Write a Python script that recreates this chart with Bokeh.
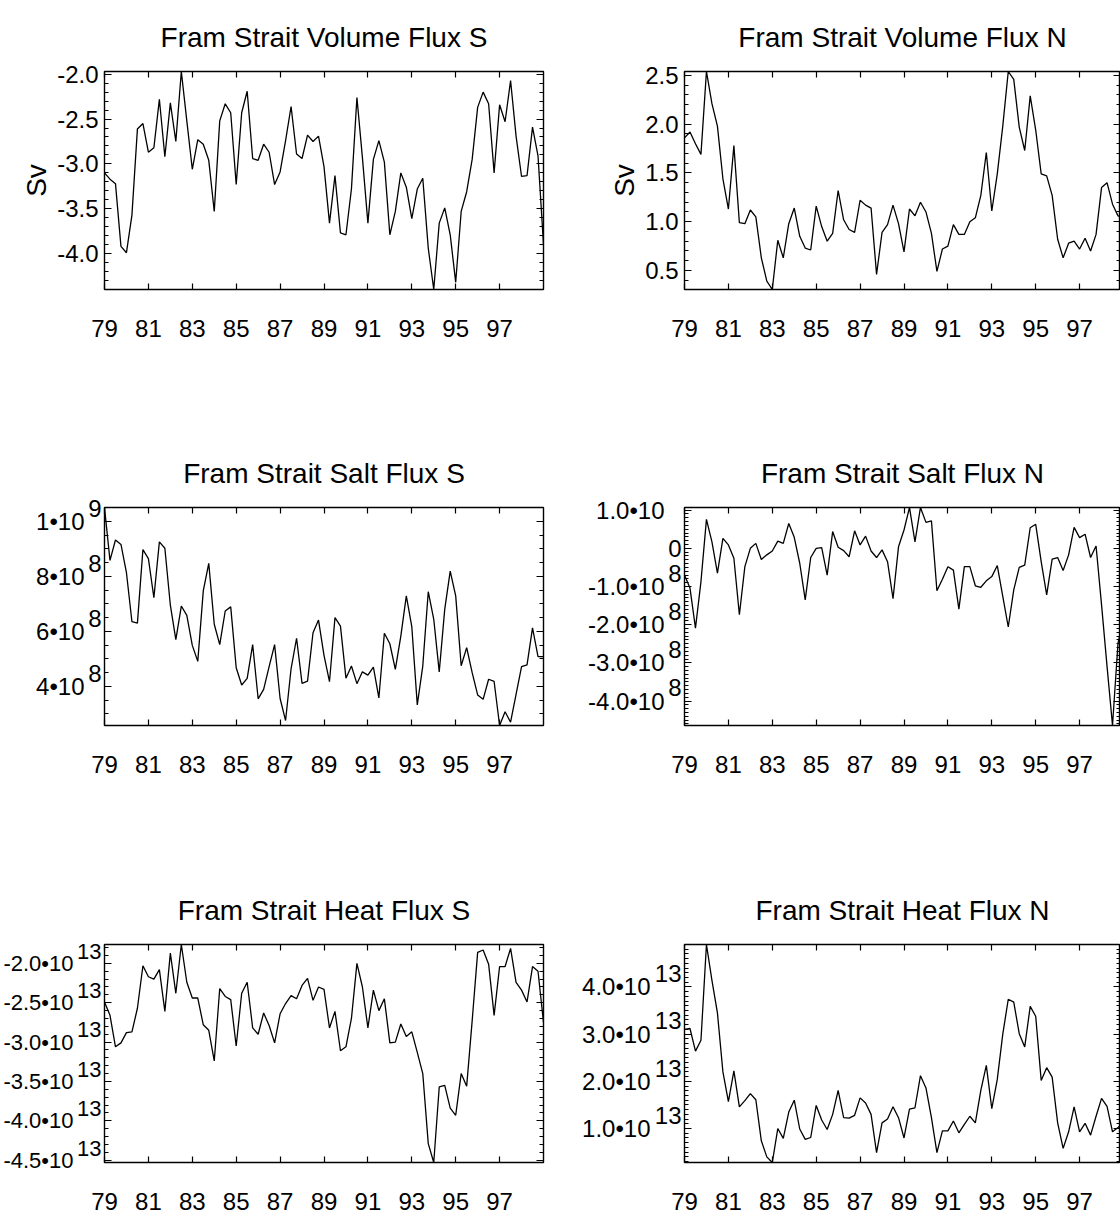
from bokeh.plotting import figure
from bokeh.models import Range1d, FixedTicker, LinearAxis
from bokeh.layouts import column, row
from bokeh.embed import file_html
from bokeh.resources import INLINE

# ---------------- data ----------------
quarters = [79 + 0.25 * i for i in range(81)]
year_ticks = [79, 81, 83, 85, 87, 89, 91, 93, 95, 97]

vol_s = [-3.10, -3.17, -3.22, -3.92, -3.99, -3.57, -2.61, -2.55, -2.87, -2.82,
         -2.28, -2.92, -2.32, -2.75, -1.97, -2.52, -3.06, -2.73, -2.78, -2.96,
         -3.53, -2.52, -2.33, -2.43, -3.23, -2.43, -2.19, -2.94, -2.96, -2.78,
         -2.87, -3.23, -3.09, -2.74, -2.36, -2.89, -2.94, -2.68, -2.75, -2.69,
         -3.03, -3.66, -3.13, -3.77, -3.79, -3.28, -2.26, -2.93, -3.66, -2.95,
         -2.74, -2.98, -3.79, -3.53, -3.10, -3.26, -3.61, -3.28, -3.16, -3.94,
         -4.40, -3.66, -3.49, -3.79, -4.32, -3.53, -3.31, -2.95, -2.37, -2.20,
         -2.33, -3.10, -2.34, -2.53, -2.07, -2.69, -3.14, -3.13, -2.59, -2.91, -3.90]

vol_n = [1.86, 1.92, 1.80, 1.69, 2.54, 2.21, 1.98, 1.44, 1.13, 1.78,
         0.99, 0.98, 1.12, 1.05, 0.63, 0.39, 0.305, 0.81, 0.63, 0.98,
         1.14, 0.85, 0.73, 0.71, 1.16, 0.95, 0.80, 0.88, 1.32, 1.02,
         0.92, 0.89, 1.22, 1.17, 1.14, 0.46, 0.89, 0.97, 1.17, 0.98,
         0.69, 1.13, 1.06, 1.20, 1.10, 0.88, 0.49, 0.72, 0.75, 0.97,
         0.87, 0.87, 1.00, 1.04, 1.27, 1.71, 1.11, 1.49, 1.98, 2.54,
         2.46, 1.97, 1.73, 2.29, 1.94, 1.49, 1.47, 1.27, 0.82, 0.63,
         0.78, 0.80, 0.72, 0.83, 0.70, 0.87, 1.35, 1.40, 1.18, 1.06, 1.04]

# salt fluxes in units of 10^8
salt_s = [10.50, 8.58, 9.32, 9.16, 8.13, 6.35, 6.30, 8.97, 8.64, 7.22,
          9.25, 9.02, 6.95, 5.70, 6.92, 6.58, 5.49, 4.91, 7.47, 8.47,
          6.26, 5.52, 6.74, 6.89, 4.68, 4.05, 4.29, 5.52, 3.55, 3.89,
          4.72, 5.52, 3.56, 2.76, 4.64, 5.75, 4.11, 4.19, 5.95, 6.41,
          5.13, 4.17, 6.50, 6.19, 4.30, 4.74, 4.10, 4.53, 4.41, 4.70,
          3.58, 5.93, 5.55, 4.62, 5.83, 7.29, 6.17, 3.33, 4.74, 7.44,
          6.44, 4.53, 6.80, 8.19, 7.29, 4.75, 5.41, 4.50, 3.69, 3.53,
          4.26, 4.18, 2.58, 3.08, 2.70, 3.71, 4.72, 4.78, 6.13, 5.08, 5.08]

salt_n = [-0.70, -1.04, -2.09, -0.87, 0.76, 0.17, -0.65, 0.26, 0.09, -0.26,
          -1.74, -0.48, 0.00, 0.13, -0.29, -0.17, -0.07, 0.19, 0.13, 0.65,
          0.29, -0.39, -1.35, -0.24, 0.00, 0.02, -0.70, 0.44, 0.03, -0.06,
          -0.22, 0.46, 0.09, 0.32, -0.07, -0.24, -0.04, -0.35, -1.32, 0.04,
          0.48, 1.07, 0.17, 1.07, 0.68, 0.72, -1.11, -0.81, -0.48, -0.57,
          -1.59, -0.48, -0.48, -0.98, -1.02, -0.85, -0.74, -0.45, -1.26, -2.06,
          -1.09, -0.50, -0.44, 0.54, 0.63, -0.35, -1.22, -0.28, -0.24, -0.58,
          -0.17, 0.55, 0.28, 0.37, -0.24, 0.06, -1.48, -3.09, -4.64, -2.48, -1.87]

# heat fluxes in units of 10^13
heat_s = [-2.49, -2.66, -3.06, -3.01, -2.88, -2.87, -2.57, -2.03, -2.17, -2.20,
          -2.08, -2.61, -1.87, -2.38, -1.76, -2.24, -2.44, -2.44, -2.78, -2.85,
          -3.24, -2.32, -2.42, -2.46, -3.05, -2.38, -2.24, -2.82, -2.90, -2.63,
          -2.79, -3.01, -2.64, -2.51, -2.41, -2.45, -2.28, -2.19, -2.47, -2.30,
          -2.33, -2.82, -2.61, -3.11, -3.06, -2.70, -2.00, -2.30, -2.82, -2.34,
          -2.60, -2.45, -3.01, -3.00, -2.77, -2.93, -2.87, -3.13, -3.40, -4.29,
          -4.53, -3.57, -3.55, -3.84, -3.93, -3.40, -3.56, -2.73, -1.86, -1.83,
          -2.01, -2.66, -2.04, -2.04, -1.81, -2.24, -2.34, -2.49, -2.04, -2.10, -2.75]

heat_n = [3.10, 3.12, 2.64, 2.87, 4.90, 4.14, 3.45, 2.20, 1.57, 2.22,
          1.46, 1.59, 1.74, 1.61, 0.74, 0.40, 0.28, 1.00, 0.79, 1.35,
          1.60, 0.99, 0.77, 0.81, 1.49, 1.18, 0.98, 1.30, 1.81, 1.23,
          1.22, 1.28, 1.65, 1.54, 1.30, 0.49, 1.12, 1.20, 1.46, 1.23,
          0.80, 1.41, 1.44, 2.12, 1.86, 1.23, 0.49, 0.95, 0.95, 1.16,
          0.91, 1.09, 1.26, 1.12, 1.81, 2.34, 1.42, 2.04, 3.00, 3.74,
          3.68, 3.01, 2.73, 3.59, 3.38, 2.02, 2.29, 2.09, 1.12, 0.58,
          0.93, 1.46, 0.93, 1.11, 0.86, 1.26, 1.64, 1.47, 0.93, 1.02, 1.14]

# tick values and labels
vol_s_ticks = [-4.0, -3.5, -3.0, -2.5, -2.0]
vol_s_labels = ["-4.0", "-3.5", "-3.0", "-2.5", "-2.0"]
vol_s_minor = [round(-4.4 + 0.1 * k, 1) for k in range(25)]

vol_n_ticks = [0.5, 1.0, 1.5, 2.0, 2.5]
vol_n_labels = ["0.5", "1.0", "1.5", "2.0", "2.5"]
vol_n_minor = [round(0.3 + 0.1 * k, 1) for k in range(23)]

salt_s_ticks = [4.0, 6.0, 8.0, 10.0]
salt_s_labels = ["4\u202210", "6\u202210", "8\u202210", "1\u202210"]
salt_s_exps = ["8", "8", "8", "9"]
salt_s_minor = [round(2.5 + 0.5 * k, 1) for k in range(17)]

salt_n_ticks = [-4.0, -3.0, -2.0, -1.0, 0.0, 1.0]
salt_n_labels = ["-4.0\u202210", "-3.0\u202210", "-2.0\u202210", "-1.0\u202210", "", "1.0\u202210"]
salt_n_exps = ["8", "8", "8", "8", "0", "8"]
salt_n_minor = [round(-4.6 + 0.1 * k, 1) for k in range(58)]

heat_s_ticks = [-4.5, -4.0, -3.5, -3.0, -2.5, -2.0]
heat_s_labels = ["-4.5\u202210", "-4.0\u202210", "-3.5\u202210", "-3.0\u202210", "-2.5\u202210", "-2.0\u202210"]
heat_s_exps = ["13", "13", "13", "13", "13", "13"]
heat_s_minor = [round(-4.5 + 0.1 * k, 1) for k in range(28)]

heat_n_ticks = [1.0, 2.0, 3.0, 4.0]
heat_n_labels = ["1.0\u202210", "2.0\u202210", "3.0\u202210", "4.0\u202210"]
heat_n_exps = ["13", "13", "13", "13"]
heat_n_minor = [round(0.3 + 0.1 * k, 1) for k in range(47)]

# ---------------- styling ----------------
FONT = "Liberation Sans"
FRAME_H = 218
TOP = 71


def hide_labels(ax):
    ax.major_label_text_font_size = "1px"
    ax.major_label_text_color = None
    ax.major_label_standoff = 0


def ticks_in(ax, maj=7, mnr=4):
    ax.major_tick_in = maj
    ax.major_tick_out = 0
    ax.minor_tick_in = mnr
    ax.minor_tick_out = 0
    ax.major_tick_line_color = "black"
    ax.minor_tick_line_color = "black"
    ax.major_tick_line_width = 1.2
    ax.minor_tick_line_width = 1.2
    ax.axis_line_color = None


def no_lines(ax):
    ax.axis_line_color = None
    ax.major_tick_line_color = None
    ax.minor_tick_line_color = None
    ax.major_tick_in = 0
    ax.major_tick_out = 0
    ax.minor_tick_in = 0
    ax.minor_tick_out = 0


def label_style(ax, px):
    ax.major_label_text_font = FONT
    ax.major_label_text_font_size = f"{px}px"
    ax.major_label_text_color = "black"


def panel(title, values, ticks, labels, minors, exps, ylabel, left, height, ypx=24):
    if left:
        mbl, mbr, xend = 104, 17, 99.0
    else:
        mbl, mbr = 124, 0
        xend = 79 + 20 * 436 / 439
    ymin, ymax = min(values), max(values)
    p = figure(width=560, height=height,
               x_range=Range1d(79, xend),
               y_range=Range1d(ymin, ymax),
               x_axis_type=None, y_axis_type=None,
               output_backend="svg", toolbar_location=None,
               min_border_left=mbl, min_border_right=mbr,
               min_border_top=TOP, min_border_bottom=height - TOP - FRAME_H)
    p.background_fill_color = "white"
    p.border_fill_color = "white"
    p.outline_line_color = "black"
    p.outline_line_width = 1.4

    p.title.text = title
    p.title.align = "center"
    p.title.text_font = FONT
    p.title.text_font_size = "28px"
    p.title.text_font_style = "normal"
    p.title.text_color = "black"
    p.title.standoff = 38

    p.line(quarters, values, line_color="black", line_width=1.3)

    xt = FixedTicker(ticks=year_ticks, minor_ticks=[])
    bottom = LinearAxis(ticker=xt)
    ticks_in(bottom, 6, 0)
    label_style(bottom, 24)
    bottom.major_label_standoff = 30
    p.add_layout(bottom, "below")

    top = LinearAxis(ticker=xt)
    ticks_in(top, 6, 0)
    hide_labels(top)
    p.add_layout(top, "above")

    yt = FixedTicker(ticks=ticks, minor_ticks=minors)
    if exps:
        a = LinearAxis(ticker=yt)
        ticks_in(a, 7, 4)
        hide_labels(a)
        p.add_layout(a, "left")

        raise_px = 0.55 * ypx
        d = raise_px * (ymax - ymin) / FRAME_H
        p.extra_y_ranges = {"exp": Range1d(ymin - d, ymax - d)}
        exp_ticks = [(-d if e == "0" else v) for v, e in zip(ticks, exps)]
        b = LinearAxis(y_range_name="exp",
                       ticker=FixedTicker(ticks=exp_ticks, minor_ticks=[]))
        no_lines(b)
        label_style(b, ypx)
        b.major_label_overrides = dict(zip(exp_ticks, exps))
        b.major_label_standoff = 3
        p.add_layout(b, "left")

        main_ticks = [v for v, l in zip(ticks, labels) if l]
        c = LinearAxis(ticker=FixedTicker(ticks=main_ticks, minor_ticks=[]))
        no_lines(c)
        label_style(c, ypx)
        c.major_label_overrides = {v: l for v, l in zip(ticks, labels) if l}
        c.major_label_standoff = 1
        p.add_layout(c, "left")
    else:
        a = LinearAxis(ticker=yt)
        ticks_in(a, 7, 4)
        label_style(a, ypx)
        a.major_label_overrides = dict(zip(ticks, labels))
        a.major_label_standoff = 6
        if ylabel:
            a.axis_label = ylabel
            a.axis_label_text_font = FONT
            a.axis_label_text_font_size = "28px"
            a.axis_label_text_font_style = "normal"
            a.axis_label_text_color = "black"
            a.axis_label_standoff = 2
        p.add_layout(a, "left")

    ra = LinearAxis(ticker=yt)
    ticks_in(ra, 7, 4)
    hide_labels(ra)
    p.add_layout(ra, "right")
    return p


H1, H2 = 436, 437
H3 = 1227 - H1 - H2

f1 = panel("Fram Strait Volume Flux S", vol_s, vol_s_ticks, vol_s_labels, vol_s_minor, None, "Sv", True, H1)
f2 = panel("Fram Strait Volume Flux N", vol_n, vol_n_ticks, vol_n_labels, vol_n_minor, None, "Sv", False, H1)
f3 = panel("Fram Strait Salt Flux S", salt_s, salt_s_ticks, salt_s_labels, salt_s_minor, salt_s_exps, None, True, H2)
f4 = panel("Fram Strait Salt Flux N", salt_n, salt_n_ticks, salt_n_labels, salt_n_minor, salt_n_exps, None, False, H2)
f5 = panel("Fram Strait Heat Flux S", heat_s, heat_s_ticks, heat_s_labels, heat_s_minor, heat_s_exps, None, True, H3, ypx=22)
f6 = panel("Fram Strait Heat Flux N", heat_n, heat_n_ticks, heat_n_labels, heat_n_minor, heat_n_exps, None, False, H3)

layout = column(row(f1, f2, spacing=0), row(f3, f4, spacing=0), row(f5, f6, spacing=0), spacing=0)

with open("out.html", "w") as fh:
    fh.write(file_html(layout, INLINE))
